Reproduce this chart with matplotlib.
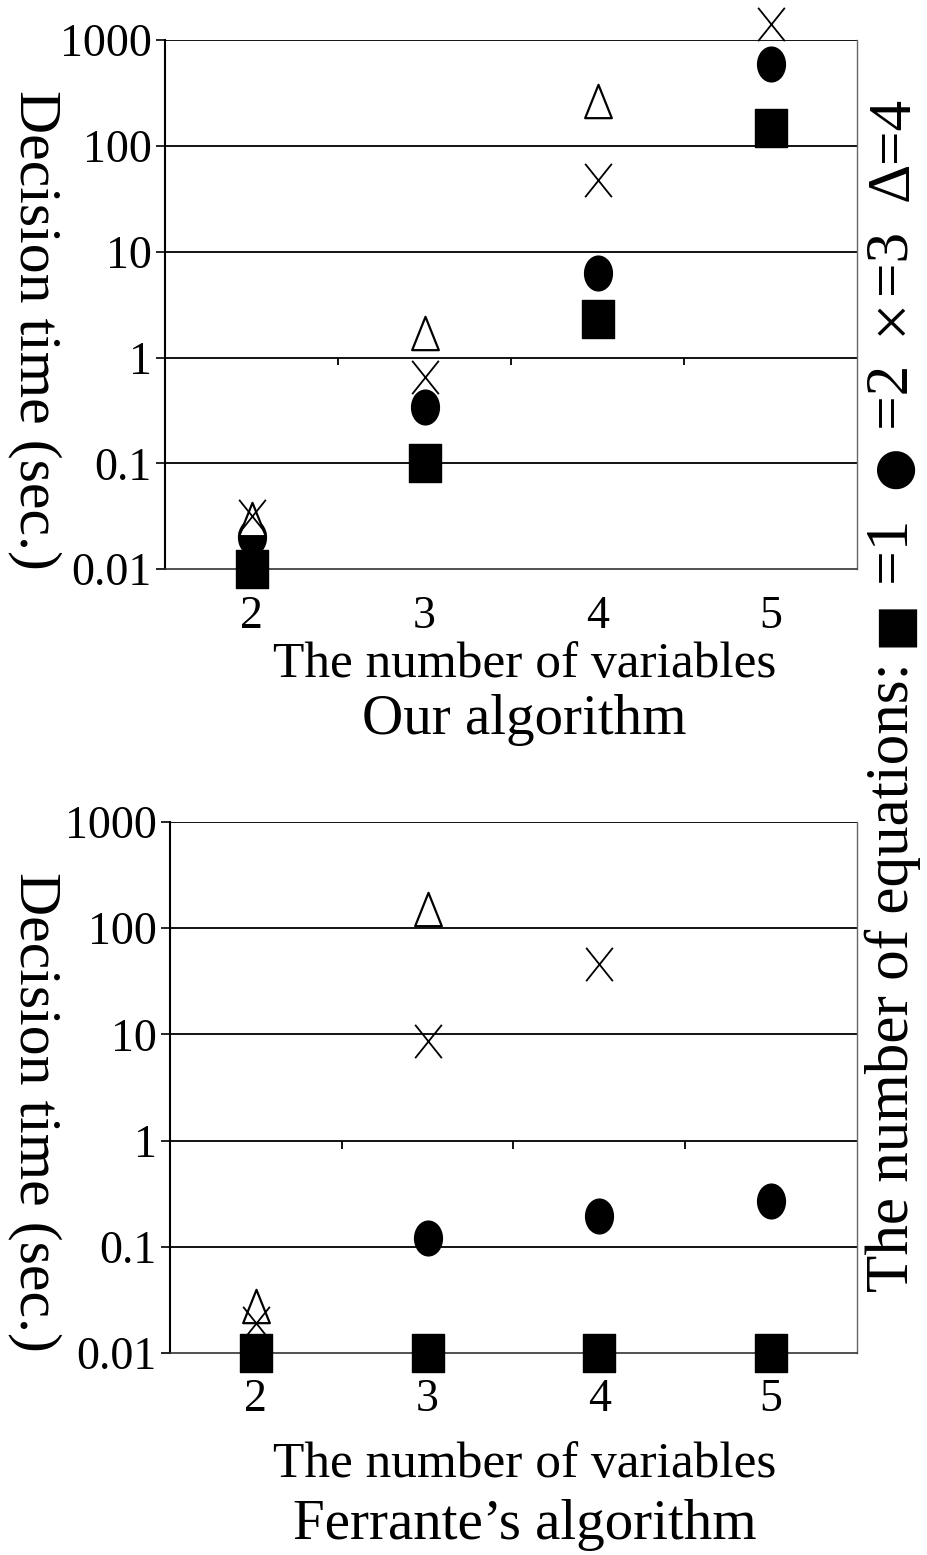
import numpy as np
import matplotlib
matplotlib.use('Agg')
import matplotlib.pyplot as plt
from matplotlib.path import Path
from matplotlib.transforms import Affine2D
from matplotlib.text import Annotation

plt.rcParams['font.family'] = ['Liberation Serif', 'DejaVu Serif']

# number of variables (categories)
nvars = [2, 3, 4, 5]

# decision times (sec.), our algorithm, by number of equations
ours_eq1 = [0.01, 0.10, 2.3, 148]
ours_eq2 = [0.02, 0.34, 6.3, 600]
ours_eq3 = [0.032, 0.65, 48, 1430]
ours_eq4 = [0.030, 1.7, 265, np.nan]

# Ferrante's algorithm
ferr_eq1 = [0.01, 0.01, 0.01, 0.01]
ferr_eq2 = [np.nan, 0.122, 0.195, 0.27]
ferr_eq3 = [0.019, 8.6, 46, np.nan]
ferr_eq4 = [0.028, 151, np.nan, np.nan]

yticks = [0.01, 0.1, 1, 10, 100, 1000]
yticklabels = ['0.01', '0.1', '1', '10', '100', '1000']
cross = 1  # where the category axis crosses

# legend text pieces: (text, font size, sans glyph?)
legend_parts = [('The number of equations: ', 44, False), ('\u25a0', 36, True),
                (' =1  ', 44, False), ('\u25cf', 36, True), (' =2  ', 44, False),
                ('\u00d7', 48, False), ('=3  ', 44, False), ('\u0394', 44, False),
                ('=4', 44, False)]

# markers a bit taller than wide, like the scanned original
sq = Path([(-0.8, -1), (0.8, -1), (0.8, 1), (-0.8, 1), (-0.8, -1)],
          [Path.MOVETO, Path.LINETO, Path.LINETO, Path.LINETO, Path.CLOSEPOLY])
circ = Path.unit_circle().transformed(Affine2D().scale(0.8, 1.0))
tri = Path([(-0.8, -1), (0.8, -1), (0, 1), (-0.8, -1)],
           [Path.MOVETO, Path.LINETO, Path.LINETO, Path.CLOSEPOLY])
cross_m = Path([(-0.8, -1), (0.8, 1), (-0.8, 1), (0.8, -1)],
               [Path.MOVETO, Path.LINETO, Path.MOVETO, Path.LINETO])

fig = plt.figure(figsize=(9.27, 15.55), dpi=100)
ax1 = fig.add_axes([0.178, 0.634, 0.7465, 0.3402])
ax2 = fig.add_axes([0.1834, 0.1299, 0.741, 0.3415])


def draw(ax, s1, s2, s3, s4, xpad):
    ax.plot(nvars, s1, linestyle='none', marker=sq, markersize=28,
            color='black', clip_on=False, zorder=3)
    ax.plot(nvars, s2, linestyle='none', marker=circ, markersize=25,
            color='black', clip_on=False, zorder=3)
    ax.plot(nvars, s4, linestyle='none', marker=tri, markersize=24,
            markerfacecolor='white', markeredgecolor='black', markeredgewidth=1.6,
            clip_on=False, zorder=4)
    ax.plot(nvars, s3, linestyle='none', marker=cross_m, markersize=24,
            markeredgecolor='black', markeredgewidth=1.3, clip_on=False, zorder=5)

    ax.set_yscale('log')
    ax.set_ylim(0.01, 1000)
    ax.set_xlim(1.5, 5.5)
    ax.set_yticks(yticks)
    ax.set_yticklabels(yticklabels)
    ax.minorticks_off()
    ax.set_xticks(nvars)
    ax.set_xticklabels([str(v) for v in nvars])
    ax.tick_params(axis='x', length=0, pad=xpad, labelsize=33)
    ax.tick_params(axis='y', direction='out', length=6.5, width=1.2, pad=3,
                   labelsize=33)
    ax.yaxis.grid(True, color='black', linewidth=1.3)
    ax.get_ygridlines()[0].set_visible(False)
    ax.set_axisbelow(True)

    ax.spines['top'].set_visible(False)
    ax.spines['left'].set_linewidth(1.5)
    ax.spines['bottom'].set_linestyle((0, (1, 1)))
    ax.spines['bottom'].set_color('#333333')
    ax.spines['bottom'].set_linewidth(1.2)
    ax.spines['right'].set_linestyle((0, (1, 1)))
    ax.spines['right'].set_color('#666666')
    ax.spines['right'].set_linewidth(1.0)

    # small category tick marks where the x axis crosses y=1
    mids = [(nvars[i] + nvars[i + 1]) / 2.0 for i in range(len(nvars) - 1)]
    ax.vlines(mids, cross * 10 ** -0.075, cross, color='black', linewidth=1.3)


draw(ax1, ours_eq1, ours_eq2, ours_eq3, ours_eq4, 19)
draw(ax2, ferr_eq1, ferr_eq2, ferr_eq3, ferr_eq4, 18)

fig.text(0.566, 1 - 665 / 1555, 'The number of variables', ha='center', va='center', fontsize=37)
fig.text(0.566, 1 - 720 / 1555, 'Our algorithm', ha='center', va='center', fontsize=41)
fig.text(0.566, 1 - 1465 / 1555, 'The number of variables', ha='center', va='center', fontsize=37)
fig.text(0.566, 1 - 1525 / 1555, 'Ferrante\u2019s algorithm', ha='center', va='center', fontsize=41)

fig.text(35 / 927, 1 - 330 / 1555, 'Decision time (sec.)', rotation=270,
         ha='center', va='center', fontsize=43)
fig.text(35 / 927, 1 - 1112 / 1555, 'Decision time (sec.)', rotation=270,
         ha='center', va='center', fontsize=43)

# rotated legend line on the right, built from pieces going upward
prev = fig.text(893 / 927, 1 - 1292 / 1555, legend_parts[0][0], rotation=90,
                ha='center', va='bottom', fontsize=legend_parts[0][1])
for txt, fs, sym in legend_parts[1:]:
    fam = ['DejaVu Sans'] if sym else ['Liberation Serif', 'DejaVu Serif']
    ann = Annotation(txt, xy=(0.5, 1.0), xycoords=prev, rotation=90,
                     ha='center', va='bottom', fontsize=fs, family=fam)
    fig.add_artist(ann)
    prev = ann

fig.savefig('out.png', dpi=100, facecolor='white')
